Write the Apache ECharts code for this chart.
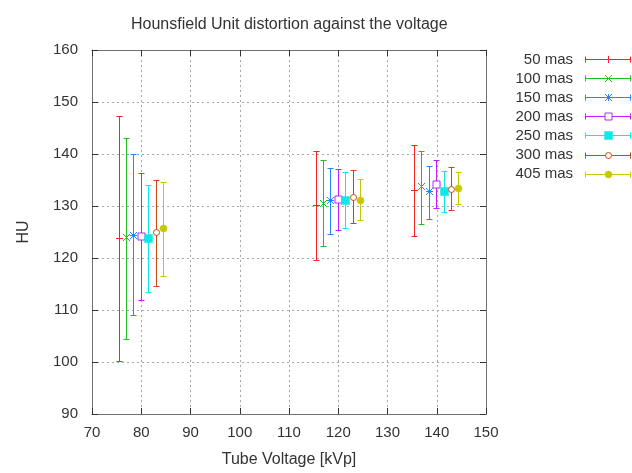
<!DOCTYPE html>
<html>
<head>
<meta charset="utf-8">
<script src="https://cdn.jsdelivr.net/npm/echarts@6/dist/echarts.min.js"></script>
<style>html,body{margin:0;padding:0;background:#fff;}#chart{width:632px;height:473px;}</style>
</head>
<body>
<div id="chart"></div>
<script>
// Series names (legend)
var seriesNames = ['50 mas', '100 mas', '150 mas', '200 mas', '250 mas', '300 mas', '405 mas'];
// X positions (tube voltage, offset per series as in the plot)
var x50  = [75.5, 115.5, 135.5];
var x100 = [77.0, 117.0, 137.0];
var x150 = [78.5, 118.5, 138.5];
var x200 = [80.0, 120.0, 140.0];
var x250 = [81.5, 121.5, 141.5];
var x300 = [83.0, 123.0, 143.0];
var x405 = [84.5, 124.5, 144.5];
// Mean HU
var mean50  = [123.7, 130.1, 133.0];
var mean100 = [123.9, 130.5, 133.7];
var mean150 = [124.4, 131.0, 132.7];
var mean200 = [124.1, 131.3, 134.2];
var mean250 = [123.7, 131.1, 132.8];
var mean300 = [124.9, 131.7, 133.2];
var mean405 = [125.6, 131.1, 133.4];
// Error bar lows
var low50  = [100.1, 119.5, 124.2];
var low100 = [104.4, 122.3, 126.4];
var low150 = [109.0, 124.6, 127.4];
var low200 = [111.9, 125.3, 129.5];
var low250 = [113.3, 125.6, 128.8];
var low300 = [114.6, 126.6, 129.2];
var low405 = [116.5, 127.2, 130.3];
// Error bar highs
var high50  = [147.2, 140.5, 141.7];
var high100 = [143.0, 138.8, 140.4];
var high150 = [140.0, 137.2, 137.6];
var high200 = [136.3, 137.0, 138.7];
var high250 = [133.9, 136.5, 136.6];
var high300 = [134.9, 136.9, 137.4];
var high405 = [134.6, 135.1, 136.5];
// Axis ticks
var xTicks = [70, 80, 90, 100, 110, 120, 130, 140, 150];
var yTicks = [90, 100, 110, 120, 130, 140, 150, 160];

var xs = [x50, x100, x150, x200, x250, x300, x405];
var means = [mean50, mean100, mean150, mean200, mean250, mean300, mean405];
var lows = [low50, low100, low150, low200, low250, low300, low405];
var highs = [high50, high100, high150, high200, high250, high300, high405];
var colors = ['#ff2020', '#20c020', '#2088ff', '#c020ff', '#10e8e8', '#c84810', '#c8c800'];
var markers = ['plus', 'cross', 'star', 'osquare', 'fsquare', 'ocircle', 'fcircle'];

function ln(x1, y1, x2, y2, c) {
  return {type: 'line', shape: {x1: x1, y1: y1, x2: x2, y2: y2}, style: {stroke: c, lineWidth: 1}, silent: true};
}
function marker(kind, cx, cy, c) {
  var out = [];
  var s = 3.5;
  if (kind === 'plus' || kind === 'star') {
    out.push(ln(cx - s, cy, cx + s, cy, c));
    out.push(ln(cx, cy - s, cx, cy + s, c));
  }
  if (kind === 'cross' || kind === 'star') {
    out.push(ln(cx - 3.5, cy - 3.5, cx + 3.5, cy + 3.5, c));
    out.push(ln(cx - 3.5, cy + 3.5, cx + 3.5, cy - 3.5, c));
  }
  if (kind === 'osquare') {
    out.push({type: 'rect', shape: {x: cx - 3.5, y: cy - 3.5, width: 7, height: 7}, style: {fill: '#fff', stroke: c, lineWidth: 1}, silent: true});
  }
  if (kind === 'fsquare') {
    out.push({type: 'rect', shape: {x: cx - 4, y: cy - 4, width: 8, height: 8}, style: {fill: c, stroke: c, lineWidth: 0.5}, silent: true});
  }
  if (kind === 'ocircle') {
    out.push({type: 'circle', shape: {cx: cx, cy: cy, r: 3}, style: {fill: '#fff', stroke: c, lineWidth: 1}, silent: true});
  }
  if (kind === 'fcircle') {
    out.push({type: 'circle', shape: {cx: cx, cy: cy, r: 3.5}, style: {fill: c, stroke: c, lineWidth: 0.5}, silent: true});
  }
  return out;
}
function snap(v) { return Math.round(v - 0.5) + 0.5; }

var series = [];
for (var i = 0; i < seriesNames.length; i++) {
  (function (i) {
    var data = xs[i].map(function (x, j) { return [x, means[i][j], lows[i][j], highs[i][j]]; });
    series.push({
      type: 'custom',
      name: seriesNames[i],
      xAxisIndex: 0,
      yAxisIndex: 0,
      data: data,
      encode: {x: 0, y: [1, 2, 3]},
      clip: false,
      renderItem: function (params, api) {
        var x = api.value(0);
        var pm = api.coord([x, api.value(1)]);
        var pl = api.coord([x, api.value(2)]);
        var ph = api.coord([x, api.value(3)]);
        var c = colors[i];
        var px = snap(pm[0]);
        var cap = 3;
        var kids = [
          ln(px, pl[1], px, ph[1], c),
          ln(px - cap, snap(pl[1]), px + cap, snap(pl[1]), c),
          ln(px - cap, snap(ph[1]), px + cap, snap(ph[1]), c)
        ].concat(marker(markers[i], px, snap(pm[1]), c));
        return {type: 'group', children: kids};
      }
    });
  })(i);
}

var fontFam = '"Liberation Sans", Arial, sans-serif';
var txtColor = '#333';

// Legend drawn as graphic (text right-aligned, error-bar sample on the right)
var legendEls = [];
for (var k = 0; k < seriesNames.length; k++) {
  var ly = 59.5 + k * 19.1;
  var cy = snap(ly);
  var c = colors[k];
  legendEls.push({type: 'text', x: 573, y: ly, style: {text: seriesNames[k], fill: txtColor, font: '15px ' + fontFam, align: 'right', verticalAlign: 'middle'}, silent: true});
  legendEls.push(ln(585, cy, 630.5, cy, c));
  legendEls.push(ln(585.5, cy - 3, 585.5, cy + 3, c));
  legendEls.push(ln(630.5, cy - 3, 630.5, cy + 3, c));
  legendEls = legendEls.concat(marker(markers[k], 608.5, cy, c));
}

var axisCommon = {
  axisLine: {show: true, lineStyle: {color: '#707070', width: 1}},
  axisTick: {show: true, inside: true, length: 6, lineStyle: {color: '#333'}}
};

var option = {
  animation: false,
  backgroundColor: '#fff',
  title: {
    text: 'Hounsfield Unit distortion against the voltage',
    left: 126, top: 12,
    textStyle: {fontSize: 16, fontWeight: 'normal', color: txtColor, fontFamily: fontFam}
  },
  grid: {left: 92, right: 146, top: 50, bottom: 59},
  xAxis: [
    Object.assign({}, axisCommon, {
      type: 'value', min: xTicks[0], max: xTicks[xTicks.length - 1], interval: 10,
      name: 'Tube Voltage [kVp]', nameLocation: 'middle', nameGap: 38,
      nameTextStyle: {fontSize: 16, color: txtColor, fontFamily: fontFam},
      axisLabel: {color: txtColor, fontSize: 15, fontFamily: fontFam, margin: 11},
      splitLine: {show: true, lineStyle: {color: '#a8a8a8', type: [2, 3], width: 1}}
    }),
    Object.assign({}, axisCommon, {
      type: 'value', position: 'top', min: xTicks[0], max: xTicks[xTicks.length - 1], interval: 10,
      axisLabel: {show: false}, splitLine: {show: false}
    })
  ],
  yAxis: [
    Object.assign({}, axisCommon, {
      type: 'value', min: yTicks[0], max: yTicks[yTicks.length - 1], interval: 10,
      name: 'HU', nameLocation: 'middle', nameGap: 60, nameRotate: 90,
      nameTextStyle: {fontSize: 16, color: txtColor, fontFamily: fontFam},
      axisLabel: {color: txtColor, fontSize: 15, fontFamily: fontFam, margin: 14},
      splitLine: {show: true, lineStyle: {color: '#a8a8a8', type: [2, 3], width: 1}}
    }),
    Object.assign({}, axisCommon, {
      type: 'value', position: 'right', min: yTicks[0], max: yTicks[yTicks.length - 1], interval: 10,
      axisLabel: {show: false}, splitLine: {show: false}
    })
  ],
  graphic: legendEls,
  series: series
};

var chart = echarts.init(document.getElementById('chart'), null, {renderer: 'canvas'});
chart.setOption(option);
</script>
</body>
</html>
